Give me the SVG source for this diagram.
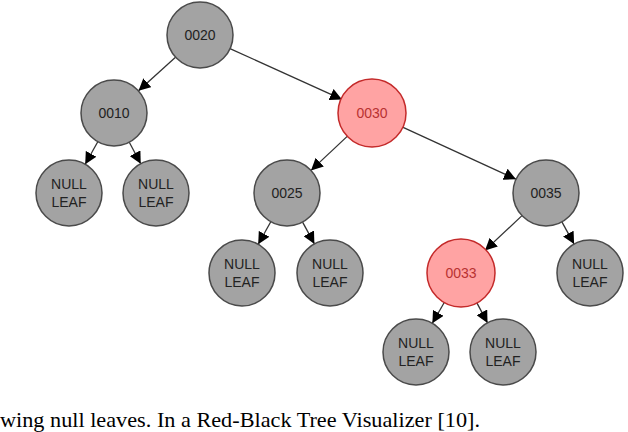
<svg xmlns="http://www.w3.org/2000/svg" width="628" height="432" viewBox="0 0 628 432">
<style>
.g{fill:#a3a3a3;stroke:#4a4a4a;stroke-width:1.5}
.r{fill:#ffa3a3;stroke:#c42a2a;stroke-width:1.5}
.t{font-family:"Liberation Sans",Arial,sans-serif;font-size:14px;fill:#222;text-anchor:middle}
.tr{fill:#b83232}
.e line{stroke:#333;stroke-width:1.3;marker-end:url(#a)}
.cap{font-family:"Liberation Serif","Times New Roman",serif;font-size:21px;fill:#000}
</style>
<defs><marker id="a" viewBox="0 0 10 10" refX="10" refY="5" markerWidth="12" markerHeight="12" markerUnits="userSpaceOnUse" orient="auto"><path d="M0,0L10,5L0,10z" fill="#000"/></marker></defs>
<rect width="628" height="432" fill="#fff"/>
<g class="e" id="edges">
<line x1="175.5" y1="57.2" x2="138.5" y2="90.8"/>
<line x1="230" y1="48.6" x2="342" y2="99.4"/>
<line x1="97.8" y1="141.7" x2="85.2" y2="164.3"/>
<line x1="129.3" y1="142.2" x2="140.7" y2="163.8"/>
<line x1="348" y1="135.6" x2="311" y2="170.4"/>
<line x1="402" y1="126.8" x2="516" y2="179.2"/>
<line x1="270.8" y1="221.7" x2="258.2" y2="244.3"/>
<line x1="302.6" y1="222.1" x2="314.4" y2="243.9"/>
<line x1="522" y1="215.6" x2="485" y2="250.4"/>
<line x1="561.9" y1="221.9" x2="574.1" y2="244.1"/>
<line x1="444.7" y1="301.7" x2="432.3" y2="323.3"/>
<line x1="476.5" y1="302.1" x2="487.5" y2="322.9"/>
</g>
<g id="n0020"><circle class="g" cx="200" cy="35" r="33"/><text class="t" x="200" y="40">0020</text></g>
<g id="n0010"><circle class="g" cx="114" cy="113" r="33"/><text class="t" x="114" y="118">0010</text></g>
<g id="n0030"><circle class="r" cx="372" cy="113" r="34"/><text class="t tr" x="372" y="118">0030</text></g>
<g id="nl1"><circle class="g" cx="69" cy="193" r="33"/><text class="t" x="69" y="189">NULL</text><text class="t" x="69" y="207">LEAF</text></g>
<g id="nl2"><circle class="g" cx="156" cy="193" r="33"/><text class="t" x="156" y="189">NULL</text><text class="t" x="156" y="207">LEAF</text></g>
<g id="n0025"><circle class="g" cx="287" cy="193" r="33"/><text class="t" x="287" y="198">0025</text></g>
<g id="n0035"><circle class="g" cx="546" cy="193" r="33"/><text class="t" x="546" y="198">0035</text></g>
<g id="nl3"><circle class="g" cx="242" cy="273" r="33"/><text class="t" x="242" y="269">NULL</text><text class="t" x="242" y="287">LEAF</text></g>
<g id="nl4"><circle class="g" cx="330" cy="273" r="33"/><text class="t" x="330" y="269">NULL</text><text class="t" x="330" y="287">LEAF</text></g>
<g id="n0033"><circle class="r" cx="461" cy="273" r="34"/><text class="t tr" x="461" y="278">0033</text></g>
<g id="nl5"><circle class="g" cx="590" cy="273" r="33"/><text class="t" x="590" y="269">NULL</text><text class="t" x="590" y="287">LEAF</text></g>
<g id="nl6"><circle class="g" cx="416" cy="352" r="33"/><text class="t" x="416" y="348">NULL</text><text class="t" x="416" y="366">LEAF</text></g>
<g id="nl7"><circle class="g" cx="503" cy="352" r="33"/><text class="t" x="503" y="348">NULL</text><text class="t" x="503" y="366">LEAF</text></g>
<text class="cap" x="0" y="427" textLength="480" lengthAdjust="spacingAndGlyphs">wing null leaves. In a Red-Black Tree Visualizer [10].</text>
</svg>
